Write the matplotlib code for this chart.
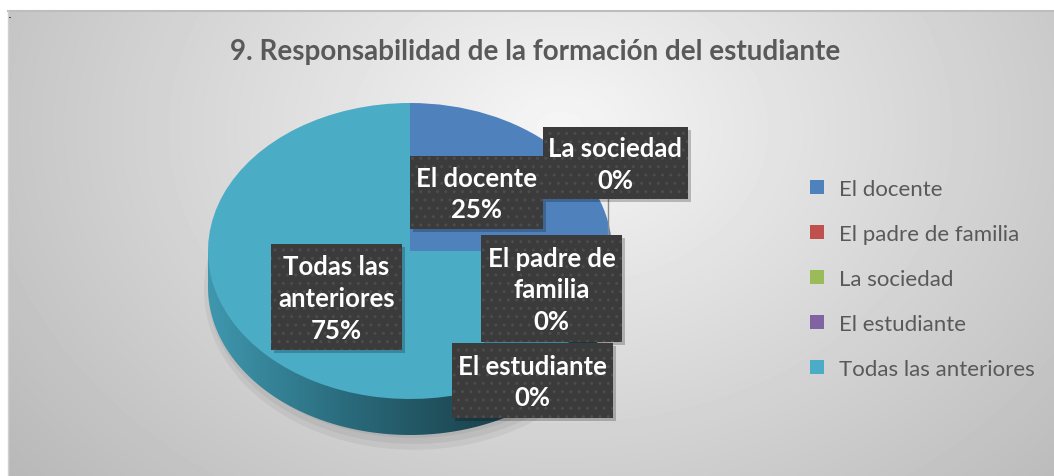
import numpy as np
import matplotlib.pyplot as plt
from matplotlib.patches import Polygon, Rectangle, Ellipse
from matplotlib.colors import LinearSegmentedColormap

# --- datos ---
title = "9. Responsabilidad de la formación del estudiante"
categories = ["El docente", "El padre de familia", "La sociedad", "El estudiante", "Todas las anteriores"]
values = [25, 0, 0, 0, 75]
colors = ["#4f81bd", "#c0504d", "#9bbb59", "#8064a2", "#4bacc6"]

# etiquetas envueltas como en el original
box_names = ["El docente", "El padre de\nfamilia", "La sociedad", "El estudiante", "Todas las\nanteriores"]
# cajas de etiquetas en pixeles (x0, y0, x1, y1)
box_px = [(410, 157, 543, 230), (481, 236, 622, 343), (543, 128, 688, 200),
          (452, 344, 613, 419), (271, 245, 402, 351)]

W, H = 1054, 477
FONT = "Lato"

fig = plt.figure(figsize=(W / 100, H / 100), dpi=100)

# --- fondo con degradado radial ---
bg = fig.add_axes([0, 0, 1, 1])
yy, xx = np.mgrid[12:H, 8:W]
r = np.sqrt(((xx - 560) / 560.0) ** 2 + ((yy - 130) / 420.0) ** 2)
val = np.clip(0.965 - 0.19 * r, 0, 1)
bg.imshow(val, cmap="gray", vmin=0, vmax=1, extent=(8, W, H, 12), aspect="auto",
          interpolation="bilinear", zorder=0)
bg.plot([8, W], [12, 12], color="#bdbdbd", lw=1.5, zorder=1)
bg.plot([8, 8], [12, H], color="#d0d0d0", lw=1, zorder=1)
bg.text(10, 14, ".", fontsize=9, color="black", ha="center", va="center")
bg.text(535, 52, title, ha="center", va="center", fontsize=20, weight="bold",
        color="#595959", family=FONT)
bg.set_xlim(0, W)
bg.set_ylim(H, 0)
bg.axis("off")

# --- pastel "3D" ---
cx, cy, rx, ry = 410, 252, 202, 148
depth = 36 / ry
ax_l, ax_r, ax_t, ax_b = 200, 620, 96, 470
pa = fig.add_axes([ax_l / W, (H - ax_b) / H, (ax_r - ax_l) / W, (ax_b - ax_t) / H])
pa.patch.set_alpha(0)

# sombra suave bajo el pastel
for k, a in enumerate([0.05, 0.05, 0.05]):
    pa.add_patch(Ellipse((0.02, -depth - 0.02), 2.0 + 0.04 * k, 2.0 + 0.08 * k,
                         fc="black", ec="none", alpha=a, zorder=1))

# lado del pastel con degradado
t = np.linspace(np.pi, 2 * np.pi, 200)
side = [(-1, 0)] + list(zip(np.cos(t), np.sin(t) - depth)) + [(1, 0)]
side_poly = Polygon(side, closed=True, fc="none", ec="none")
pa.add_patch(side_poly)
side_cmap = LinearSegmentedColormap.from_list("side", ["#3f97ae", "#2a6c7d", "#1d4651", "#1e4a56"])
grad = np.tile(np.linspace(0, 1, 300), (10, 1))
im = pa.imshow(grad, cmap=side_cmap, extent=(-1, 1, -1 - depth, 0), aspect="auto", zorder=2)
im.set_clip_path(side_poly)

wedges, _ = pa.pie(values, colors=colors, startangle=90, counterclock=False,
                   wedgeprops=dict(linewidth=0))
for w in wedges:
    w.set_zorder(3)

pa.set_aspect("auto")
pa.set_xlim(-(cx - ax_l) / rx, (ax_r - cx) / rx)
pa.set_ylim(-(ax_b - cy) / ry, (cy - ax_t) / ry)
pa.axis("off")

# --- etiquetas y leyenda ---
ov = fig.add_axes([0, 0, 1, 1], zorder=5)
ov.patch.set_alpha(0)
ov.set_xlim(0, W)
ov.set_ylim(H, 0)
ov.axis("off")

ov.plot([608, 608], [200, 236], color="#8c8c8c", lw=1, zorder=1)

total = sum(values)
for name, v, (x0, y0, x1, y1) in zip(box_names, values, box_px):
    ov.add_patch(Rectangle((x0 + 3, y0 + 3), x1 - x0, y1 - y0, fc="black", ec="none",
                           alpha=0.22, zorder=2))
    ov.add_patch(Rectangle((x0, y0), x1 - x0, y1 - y0, fc="#3b3b3b", ec="#4c4c4c",
                           lw=0, hatch="..", zorder=3))
    ov.text((x0 + x1) / 2, (y0 + y1) / 2 + 1, f"{name}\n{v / total * 100:.0f}%",
            ha="center", va="center", color="white", fontsize=18.5, weight="bold",
            family=FONT, linespacing=1.38, zorder=4)

leg = ov.legend(wedges, categories, loc="upper left", bbox_to_anchor=(810 / W, 1 - 180 / H),
                bbox_transform=fig.transFigure, frameon=False,
                handlelength=0.62, handleheight=0.62, handletextpad=0.7, labelspacing=1.12,
                borderpad=0, borderaxespad=0, labelcolor="#595959",
                prop={"family": FONT, "size": 16})

fig.savefig("out.png", dpi=100)
